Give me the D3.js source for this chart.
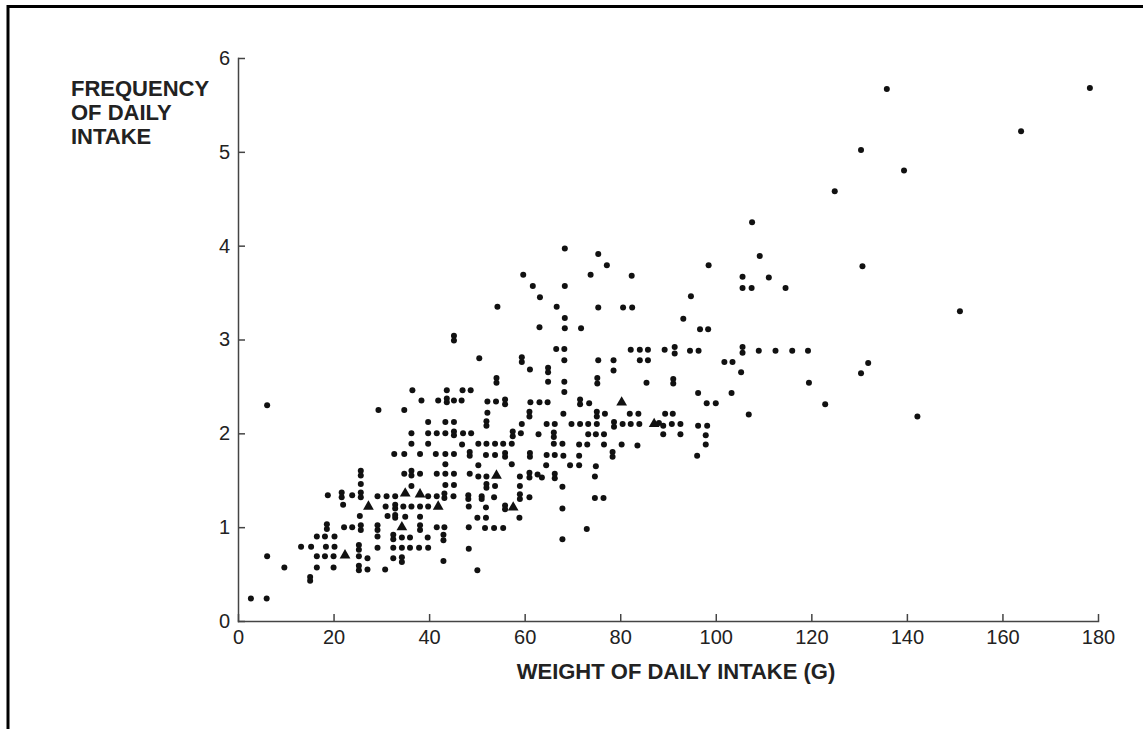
<!DOCTYPE html>
<html>
<head>
<meta charset="utf-8">
<script src="https://cdn.jsdelivr.net/npm/d3@7"></script>
<style>
  body { margin: 0; background: #fff; }
  svg { display: block; }
  .axis path, .axis line { stroke: #444; stroke-width: 1.5; }
  .axis text { font-family: "Liberation Sans", Arial, sans-serif; font-size: 20px; fill: #222; }
  .title { font-family: "Liberation Sans", Arial, sans-serif; font-weight: bold; font-size: 22px; fill: #222; }
</style>
</head>
<body>
<svg id="chart"></svg>
<script>
// x = weight of daily intake (g), y = frequency of daily intake
var dots = [
  [2.7,0.24],[6.0,0.24],[15.1,0.47],[15.1,0.43],
  [9.7,0.57],[16.5,0.57],[20.0,0.57],[25.3,0.59],[25.3,0.54],[27.1,0.55],[30.8,0.55],
  [6.1,0.69],[16.5,0.69],[18.2,0.69],[20.0,0.69],[25.3,0.69],[27.1,0.67],[32.5,0.67],[34.3,0.68],[34.3,0.63],[43.0,0.64],
  [13.2,0.79],[15.3,0.79],[18.4,0.79],[20.2,0.79],[25.3,0.81],[25.3,0.76],[29.2,0.78],[32.5,0.78],[34.3,0.78],[36.0,0.78],[37.9,0.78],[39.8,0.78],[48.3,0.77],
  [16.5,0.90],[18.2,0.90],[20.2,0.90],[29.2,0.90],[32.5,0.92],[32.5,0.87],[34.3,0.89],[36.0,0.89],[39.7,0.89],[43.0,0.92],[43.0,0.86],
  [18.6,1.03],[18.6,0.98],[22.2,1.0],[23.9,1.0],[25.7,1.02],[25.7,0.97],[29.2,1.02],[29.2,0.97],[38.1,1.02],[38.1,0.97],[41.6,1.0],[43.2,1.0],[48.3,1.0],
  [25.5,1.12],[31.3,1.12],[32.9,1.13],[32.9,1.10],[35.0,1.11],[38.1,1.11],
  [22.0,1.24],[30.9,1.22],[32.9,1.24],[32.9,1.20],[34.6,1.22],[36.3,1.22],[38.1,1.22],[39.8,1.22],[48.3,1.22],
  [18.8,1.34],[21.7,1.37],[21.7,1.32],[23.9,1.34],[25.7,1.37],[25.7,1.32],[29.2,1.33],[31.1,1.33],[32.9,1.33],[39.8,1.33],[41.6,1.33],[43.2,1.36],[43.2,1.31],[45.1,1.33],[48.2,1.34],[48.2,1.30],
  [25.7,1.46],[36.3,1.44],[43.4,1.45],[45.2,1.45],
  [25.7,1.60],[25.7,1.55],[34.8,1.57],[36.3,1.60],[36.3,1.55],[38.1,1.57],[41.6,1.57],[43.4,1.57],[45.2,1.57],[48.5,1.57],
  [43.4,1.67],
  [32.7,1.78],[34.8,1.78],[38.1,1.78],[41.4,1.78],[43.4,1.78],[45.2,1.78],[48.5,1.80],[48.5,1.76],
  [36.3,1.89],[39.8,1.89],[46.9,1.88],
  [36.3,2.0],[39.8,2.0],[41.6,2.0],[43.4,2.0],[45.2,2.02],[45.2,1.98],[47.1,2.0],[48.8,2.0],
  [39.8,2.12],[43.4,2.12],[45.2,2.12],[29.4,2.25],[34.8,2.25],[6.1,2.3],
  [50.1,0.54],[67.9,0.87],[51.7,0.99],[53.6,0.99],[55.5,0.99],[73.0,0.98],
  [50.1,1.10],[51.9,1.10],[58.9,1.10],
  [51.9,1.21],[55.9,1.23],[55.9,1.19],[67.9,1.20],
  [51.0,1.33],[51.0,1.30],[53.6,1.32],[59.0,1.35],[59.0,1.30],[61.0,1.32],[74.7,1.31],[76.5,1.31],
  [52.0,1.46],[52.0,1.42],[53.8,1.44],[59.0,1.44],[67.9,1.43],
  [50.3,1.54],[52.0,1.54],[59.0,1.54],[61.0,1.58],[61.0,1.53],[62.7,1.56],[63.6,1.53],[66.3,1.57],[66.3,1.52],[74.7,1.54],
  [50.3,1.66],[57.3,1.67],[64.5,1.66],[69.5,1.66],[71.4,1.66],[74.9,1.65],
  [51.9,1.77],[53.8,1.77],[55.9,1.79],[55.9,1.75],[61.1,1.79],[61.1,1.75],[64.6,1.77],[66.3,1.77],[68.1,1.76],[71.4,1.76],[78.4,1.80],[78.4,1.75],[96.1,1.76],
  [50.3,1.89],[52.0,1.89],[53.8,1.89],[55.5,1.89],[57.3,1.89],[66.1,1.89],[67.9,1.89],[71.4,1.88],[73.1,1.88],[76.6,1.88],[80.3,1.88],[83.6,1.87],[97.9,1.88],
  [57.5,2.02],[57.5,1.97],[59.2,2.0],[62.9,1.99],[66.1,2.01],[66.1,1.96],[73.3,1.99],[74.9,1.99],[76.6,1.99],[89.0,1.99],[92.6,1.99],[97.9,1.98],
  [52.0,2.13],[52.0,2.08],[59.4,2.1],[64.6,2.1],[66.3,2.1],[69.8,2.1],[71.6,2.1],[73.3,2.1],[75.1,2.1],[78.7,2.12],[78.7,2.07],[80.5,2.1],[82.2,2.1],[84.0,2.1],
  [88.1,2.11],[89.0,2.08],[90.8,2.1],[92.6,2.1],[96.3,2.08],[98.2,2.08],
  [52.2,2.22],[61.0,2.23],[61.0,2.18],[68.1,2.21],[75.1,2.23],[75.1,2.18],[76.8,2.21],[82.0,2.21],[83.8,2.21],[89.4,2.21],[91.0,2.21],[106.9,2.2],
  [68.4,3.97],[75.4,3.91],[77.2,3.79],[59.7,3.69],[73.8,3.69],[61.7,3.57],[68.4,3.57],[63.2,3.45],[54.3,3.35],[66.7,3.35],[75.4,3.34],
  [68.4,3.23],[63.1,3.13],[68.4,3.12],[71.8,3.12],
  [45.2,3.04],[45.2,2.99],[66.6,2.9],[68.3,2.9],[50.5,2.80],[59.4,2.81],[59.4,2.76],[68.3,2.78],[75.4,2.78],[78.6,2.78],
  [61.1,2.68],[64.9,2.70],[64.9,2.65],[78.6,2.67],
  [54.1,2.59],[54.1,2.54],[64.9,2.55],[68.3,2.55],[75.2,2.59],[75.2,2.53],
  [36.5,2.46],[43.7,2.46],[47.0,2.46],[48.7,2.46],[68.3,2.44],
  [38.4,2.35],[41.9,2.35],[43.7,2.37],[43.7,2.33],[45.2,2.35],[46.8,2.35],[52.2,2.34],[54.0,2.34],[55.9,2.36],[55.9,2.31],
  [61.2,2.33],[63.1,2.33],[64.8,2.33],[71.6,2.36],[71.6,2.31],[73.5,2.32],
  [109.2,3.89],[98.5,3.79],[82.4,3.68],[105.6,3.67],[111.1,3.66],[105.6,3.55],[107.5,3.55],[114.6,3.55],[94.8,3.46],
  [80.6,3.34],[82.5,3.34],[93.2,3.22],[96.7,3.11],[98.4,3.11],
  [82.2,2.89],[84.1,2.89],[85.8,2.89],[89.3,2.89],[91.4,2.92],[91.4,2.85],[94.6,2.88],[96.4,2.88],[105.6,2.92],[105.6,2.86],
  [109.0,2.88],[112.5,2.88],[116.0,2.88],[119.3,2.88],
  [84.1,2.78],[85.8,2.78],[101.8,2.76],[103.5,2.76],[105.3,2.65],[85.5,2.54],[91.1,2.58],[91.1,2.53],[119.5,2.54],
  [96.3,2.43],[103.3,2.43],[98.1,2.32],[100.0,2.32],[122.9,2.31],
  [130.7,3.78],[151.1,3.30],[131.9,2.75],[130.4,2.64],[142.2,2.18],
  [107.6,4.25],[124.9,4.58],[130.4,5.02],[163.9,5.22],[139.4,4.80],[135.8,5.67],[178.3,5.68]
];
var triangles = [
  [22.4,0.70],[34.3,1.0],[27.3,1.22],[41.9,1.22],[35.0,1.36],[38.1,1.35],
  [54.1,1.55],[57.6,1.21],[87.1,2.1],[80.3,2.33]
];
var xTicks = [0, 20, 40, 60, 80, 100, 120, 140, 160, 180];
var yTicks = [0, 1, 2, 3, 4, 5, 6];
var yTitle = ["FREQUENCY", "OF DAILY", "INTAKE"];
var xTitle = "WEIGHT OF DAILY INTAKE (G)";

var W = 1143, H = 729;
var svg = d3.select("#chart").attr("width", W).attr("height", H);

// frame: top and left edges only
svg.append("line").attr("x1", 8).attr("y1", 6.5).attr("x2", W).attr("y2", 6.5)
    .attr("stroke", "#000").attr("stroke-width", 3);
svg.append("line").attr("x1", 8).attr("y1", 5).attr("x2", 8).attr("y2", H)
    .attr("stroke", "#000").attr("stroke-width", 3);

var x = d3.scaleLinear().domain([0, 180]).range([238, 1098]);
var y = d3.scaleLinear().domain([0, 6]).range([621, 58]);

svg.append("g")
    .attr("class", "axis")
    .attr("transform", "translate(0," + y(0) + ")")
    .call(d3.axisBottom(x).tickValues(xTicks).tickFormat(d3.format("d"))
        .tickSizeInner(-7).tickSizeOuter(0).tickPadding(9));

svg.append("g")
    .attr("class", "axis")
    .attr("transform", "translate(" + x(0) + ",0)")
    .call(d3.axisLeft(y).tickValues(yTicks).tickFormat(d3.format("d"))
        .tickSizeInner(-7).tickSizeOuter(0).tickPadding(8));

svg.selectAll(".axis .domain").attr("stroke-linecap", "square");

svg.append("g").selectAll("circle")
    .data(dots)
    .enter().append("circle")
    .attr("cx", function(d) { return x(d[0]); })
    .attr("cy", function(d) { return y(d[1]); })
    .attr("r", 3)
    .attr("fill", "#111");

svg.append("g").selectAll("path")
    .data(triangles)
    .enter().append("path")
    .attr("d", d3.symbol().type(d3.symbolTriangle).size(50))
    .attr("transform", function(d) { return "translate(" + x(d[0]) + "," + y(d[1]) + ")"; })
    .attr("fill", "#111");

svg.append("text")
    .attr("class", "title")
    .attr("x", 71)
    .selectAll("tspan")
    .data(yTitle)
    .enter().append("tspan")
    .attr("x", 71)
    .attr("y", function(d, i) { return 96 + i * 24; })
    .text(function(d) { return d; });

svg.append("text")
    .attr("class", "title")
    .attr("x", 676)
    .attr("y", 679)
    .attr("text-anchor", "middle")
    .text(xTitle);
</script>
</body>
</html>
